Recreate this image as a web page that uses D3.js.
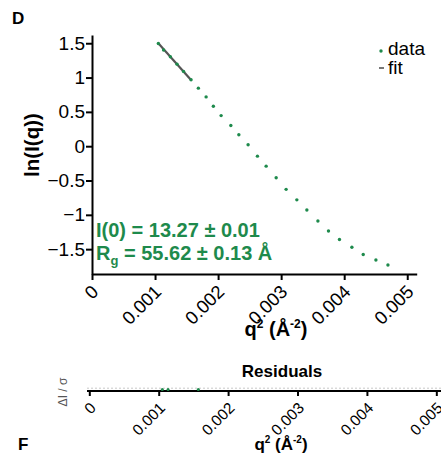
<!DOCTYPE html>
<html>
<head>
<meta charset="utf-8">
<script src="https://d3js.org/d3.v7.min.js"></script>
<style>
  body { margin: 0; background: #fff; }
  text { font-family: "Liberation Sans", Arial, sans-serif; }
</style>
</head>
<body>
<script>
// q^2 (Å^-2) and ln(I(q))
var dataQ2 = [0.001052, 0.001135, 0.001243, 0.001349, 0.001452, 0.001571, 0.001687, 0.001810,
  0.001925, 0.002048, 0.002202, 0.002329, 0.002476, 0.002624, 0.002762, 0.002921, 0.003079,
  0.003249, 0.003408, 0.003583, 0.003751, 0.003925, 0.004122, 0.004302, 0.004503, 0.004694];
var dataLnI = [1.497, 1.401, 1.304, 1.195, 1.090, 0.969, 0.846, 0.718, 0.581, 0.446, 0.301,
  0.166, 0.020, -0.145, -0.291, -0.459, -0.629, -0.782, -0.930, -1.090, -1.235, -1.360,
  -1.472, -1.578, -1.657, -1.730];

// Guinier fit segment
var fitQ2 = [0.001052, 0.001571];
var fitLnI = [1.500, 0.965];

// residuals (only the visible ones)
var resQ2 = [0.001052, 0.001135, 0.001571];
var resVal = [-0.4, -0.4, -0.3];

var yTicks = [1.5, 1, 0.5, 0, -0.5, -1, -1.5];
var xTicks = [0, 0.001, 0.002, 0.003, 0.004, 0.005];

var green = "#1e8a4c";
var W = 441, H = 458;

var svg = d3.select("body").append("svg")
    .attr("width", W)
    .attr("height", H);

// main plot scales
var x = d3.scaleLinear().domain([0, 0.00515]).range([92, 416.7]);
var y = d3.scaleLinear().domain([-1.862, 1.62]).range([274, 35]);

var fmt = function(d) { return d3.format("")(+d.toFixed(3)); };

// y axis
var gy = svg.append("g")
    .attr("transform", "translate(" + x(0) + ",0)")
    .call(d3.axisLeft(y).tickValues(yTicks).tickSize(6).tickSizeOuter(0).tickFormat(fmt));
gy.select(".domain").attr("stroke-width", 2);
gy.selectAll(".tick line").attr("stroke-width", 2);
gy.selectAll(".tick text")
    .attr("font-size", 19)
    .attr("x", -7)
    .attr("fill", "#000")
    .style("font-family", "Liberation Sans, Arial, sans-serif");

// x axis
var gx = svg.append("g")
    .attr("transform", "translate(0," + y(-1.862) + ")")
    .call(d3.axisBottom(x).tickValues(xTicks).tickSize(6).tickSizeOuter(0).tickFormat(fmt));
gx.select(".domain").attr("stroke-width", 2);
gx.selectAll(".tick line").attr("stroke-width", 2);
gx.selectAll(".tick text")
    .attr("font-size", 18.5)
    .attr("x", 0).attr("y", 0).attr("dy", 0)
    .attr("text-anchor", "end")
    .attr("fill", "#000")
    .attr("transform", "translate(7,19) rotate(-45)")
    .style("font-family", "Liberation Sans, Arial, sans-serif");

// fit line
svg.append("path")
    .datum(d3.range(fitQ2.length))
    .attr("d", d3.line().x(function(i) { return x(fitQ2[i]); }).y(function(i) { return y(fitLnI[i]); }))
    .attr("fill", "none")
    .attr("stroke", "#555")
    .attr("stroke-width", 2.2);

// data points
svg.append("g").selectAll("circle")
    .data(d3.range(dataQ2.length))
    .join("circle")
    .attr("cx", function(i) { return x(dataQ2[i]); })
    .attr("cy", function(i) { return y(dataLnI[i]); })
    .attr("r", 1.7)
    .attr("fill", green);

// panel letter
svg.append("text").attr("x", 12).attr("y", 24)
    .attr("font-size", 17).attr("font-weight", "bold").text("D");

// y label
svg.append("text")
    .attr("transform", "translate(39,145) rotate(-90)")
    .attr("text-anchor", "middle")
    .attr("font-size", 20.5).attr("font-weight", "bold")
    .text("ln(I(q))");

// x label
var xl = svg.append("text")
    .attr("x", 276).attr("y", 336)
    .attr("text-anchor", "middle")
    .attr("font-size", 20).attr("font-weight", "bold");
xl.append("tspan").text("q");
xl.append("tspan").attr("font-size", 12).attr("dy", -8).text("2");
xl.append("tspan").attr("dy", 8).text(" (Å");
xl.append("tspan").attr("font-size", 12).attr("dy", -8).text("-2");
xl.append("tspan").attr("dy", 8).text(")");

// legend
svg.append("circle").attr("cx", 381).attr("cy", 51).attr("r", 1.7).attr("fill", green);
svg.append("text").attr("x", 388).attr("y", 55).attr("font-size", 19).text("data");
svg.append("line").attr("x1", 379).attr("x2", 384).attr("y1", 68).attr("y2", 68)
    .attr("stroke", "#555").attr("stroke-width", 1.6);
svg.append("text").attr("x", 388).attr("y", 73.5).attr("font-size", 19).text("fit");

// annotation
svg.append("text").attr("x", 96).attr("y", 237)
    .attr("font-size", 20).attr("font-weight", "bold").attr("fill", green)
    .text("I(0) = 13.27 ± 0.01");
var rg = svg.append("text").attr("x", 96).attr("y", 259.5)
    .attr("font-size", 20).attr("font-weight", "bold").attr("fill", green);
rg.append("tspan").text("R");
rg.append("tspan").attr("font-size", 13).attr("dy", 5).text("g");
rg.append("tspan").attr("dy", -5).text(" = 55.62 ± 0.13 Å");

// ---- residuals panel ----
var xr = d3.scaleLinear().domain([0, 0.0052]).range([89.3, 450.2]);
var yr = d3.scaleLinear().domain([-1, 1]).range([391, 386.4]);

svg.append("text").attr("x", 282).attr("y", 377)
    .attr("text-anchor", "middle")
    .attr("font-size", 17).attr("font-weight", "bold")
    .text("Residuals");

svg.append("line")
    .attr("x1", 87).attr("x2", W)
    .attr("y1", yr(0) - 0.5).attr("y2", yr(0) - 0.5)
    .attr("stroke", "#c8c8c8").attr("stroke-width", 1)
    .attr("stroke-dasharray", "2,2");

var gr = svg.append("g")
    .attr("transform", "translate(0," + yr(-1) + ")")
    .call(d3.axisBottom(xr).tickValues(xTicks).tickSize(5).tickSizeOuter(0).tickFormat(fmt));
gr.select(".domain").attr("stroke-width", 2).attr("d", "M" + 87 + ",0H" + 450);
gr.selectAll(".tick line").attr("stroke-width", 2);
gr.selectAll(".tick text")
    .attr("font-size", 15.5)
    .attr("x", 0).attr("y", 0).attr("dy", 0)
    .attr("text-anchor", "end")
    .attr("fill", "#000")
    .attr("transform", "translate(7,18) rotate(-45)")
    .style("font-family", "Liberation Sans, Arial, sans-serif");

svg.append("g").selectAll("circle")
    .data(d3.range(resQ2.length))
    .join("circle")
    .attr("cx", function(i) { return xr(resQ2[i]); })
    .attr("cy", function(i) { return yr(resVal[i]); })
    .attr("r", 1.5)
    .attr("fill", green);

svg.append("text")
    .attr("transform", "translate(67,392) rotate(-90)")
    .attr("text-anchor", "middle")
    .attr("font-size", 12).attr("fill", "#555")
    .text("ΔI / σ");

var xl2 = svg.append("text")
    .attr("x", 281).attr("y", 450)
    .attr("text-anchor", "middle")
    .attr("font-size", 17).attr("font-weight", "bold");
xl2.append("tspan").text("q");
xl2.append("tspan").attr("font-size", 10).attr("dy", -7).text("2");
xl2.append("tspan").attr("dy", 7).text(" (Å");
xl2.append("tspan").attr("font-size", 10).attr("dy", -7).text("-2");
xl2.append("tspan").attr("dy", 7).text(")");

svg.append("text").attr("x", 18).attr("y", 450)
    .attr("font-size", 17).attr("font-weight", "bold").text("F");
</script>
</body>
</html>
